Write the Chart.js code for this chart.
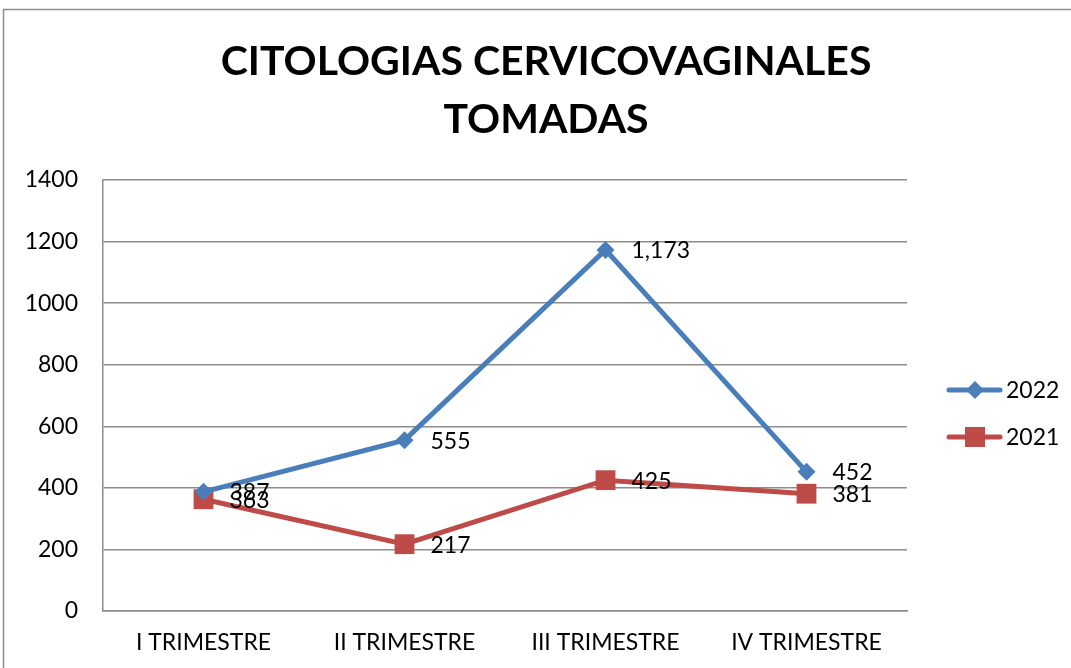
<!DOCTYPE html>
<html>
<head>
<meta charset="utf-8">
<script src="https://cdn.jsdelivr.net/npm/chart.js@4/dist/chart.umd.min.js"></script>
<style>
  html, body { margin: 0; padding: 0; background: #fff; }
  #wrap { width: 1071px; height: 668px; position: relative; }
</style>
</head>
<body>
<div id="wrap"><canvas id="chart"></canvas></div>
<script>
// datos
const categories = ['I TRIMESTRE', 'II TRIMESTRE', 'III TRIMESTRE', 'IV TRIMESTRE'];
const values2022 = [387, 555, 1173, 452];
const values2021 = [363, 217, 425, 381];
const seriesNames = ['2022', '2021'];
const yTicks = [0, 200, 400, 600, 800, 1000, 1200, 1400];
const titleLines = ['CITOLOGIAS CERVICOVAGINALES', 'TOMADAS'];

const FONT = 'Lato, Carlito, "Open Sans", sans-serif';
const BLUE = '#4A7EBB';
const RED = '#BE4B48';

// marco exterior
const framePlugin = {
  id: 'frame',
  afterDraw(chart) {
    const ctx = chart.ctx;
    ctx.save();
    ctx.strokeStyle = '#8c8c8c';
    ctx.lineWidth = 1.5;
    ctx.strokeRect(3.5, 9.5, 1200, 800);
    ctx.restore();
  }
};

// titulo centrado sobre todo el grafico (no solo el area de trazado)
const titlePlugin = {
  id: 'excelTitle',
  afterDraw(chart) {
    const ctx = chart.ctx;
    ctx.save();
    ctx.fillStyle = '#000';
    ctx.font = 'bold 41px ' + FONT;
    ctx.textAlign = 'center';
    ctx.textBaseline = 'middle';
    titleLines.forEach((t, i) => ctx.fillText(t, 546, 62 + i * 58));
    ctx.restore();
  }
};

// etiquetas de datos a la derecha de cada punto
const labelsPlugin = {
  id: 'valueLabels',
  afterDatasetsDraw(chart) {
    const ctx = chart.ctx;
    ctx.save();
    ctx.font = '23px ' + FONT;
    ctx.fillStyle = '#000';
    ctx.textAlign = 'left';
    ctx.textBaseline = 'middle';
    chart.data.datasets.forEach((ds, i) => {
      chart.getDatasetMeta(i).data.forEach((pt, j) => {
        ctx.fillText(ds.data[j].toLocaleString('en-US'), pt.x + 26, pt.y + 1);
      });
    });
    ctx.restore();
  }
};

// leyenda estilo Excel (linea + marcador)
const legendPlugin = {
  id: 'excelLegend',
  afterDraw(chart) {
    const ctx = chart.ctx;
    ctx.save();
    chart.data.datasets.forEach((ds, i) => {
      const y = 390 + i * 47;
      ctx.strokeStyle = ds.borderColor;
      ctx.lineWidth = 5;
      ctx.lineCap = 'round';
      ctx.beginPath();
      ctx.moveTo(949, y);
      ctx.lineTo(1000, y);
      ctx.stroke();
      ctx.fillStyle = ds.backgroundColor;
      ctx.beginPath();
      if (ds.pointStyle === 'rectRot') {
        ctx.moveTo(975, y - 9); ctx.lineTo(984, y); ctx.lineTo(975, y + 9); ctx.lineTo(966, y);
      } else {
        ctx.rect(965, y - 10, 20, 20);
      }
      ctx.closePath();
      ctx.fill();
      ctx.fillStyle = '#000';
      ctx.font = '23px ' + FONT;
      ctx.textBaseline = 'middle';
      ctx.fillText(ds.label, 1006, y + 1);
    });
    ctx.restore();
  }
};

new Chart(document.getElementById('chart'), {
  type: 'line',
  data: {
    labels: categories,
    datasets: [
      {
        label: seriesNames[0],
        data: values2022,
        borderColor: BLUE,
        backgroundColor: BLUE,
        borderWidth: 5,
        pointStyle: 'rectRot',
        pointRadius: 9,
        pointHoverRadius: 9,
        pointBorderWidth: 0,
        tension: 0
      },
      {
        label: seriesNames[1],
        data: values2021,
        borderColor: RED,
        backgroundColor: RED,
        borderWidth: 5,
        pointStyle: 'rect',
        pointRadius: 14,
        pointHoverRadius: 14,
        pointBorderWidth: 0,
        tension: 0
      }
    ]
  },
  options: {
    responsive: true,
    maintainAspectRatio: false,
    animation: false,
    layout: { padding: { left: 0, right: 164, top: 180, bottom: 0 } },
    plugins: {
      legend: { display: false },
      tooltip: { enabled: false },
      title: { display: false }
    },
    scales: {
      x: {
        offset: true,
        grid: { display: false, drawTicks: false },
        border: { color: '#8c8c8c', width: 1.5 },
        ticks: { color: '#000', font: { family: FONT, size: 23 }, padding: 18, maxRotation: 0 },
        afterFit(scale) { scale.height = 57; }
      },
      y: {
        min: 0,
        max: 1400,
        afterBuildTicks(scale) { scale.ticks = yTicks.map(v => ({ value: v })); },
        grid: { color: '#8c8c8c', lineWidth: 1.5, drawTicks: false },
        border: { color: '#8c8c8c', width: 1.5 },
        ticks: { color: '#000', font: { family: FONT, size: 23 }, padding: 25, callback: v => String(v) },
        afterFit(scale) { scale.width = 103; }
      }
    }
  },
  plugins: [framePlugin, titlePlugin, labelsPlugin, legendPlugin]
});
</script>
</body>
</html>
